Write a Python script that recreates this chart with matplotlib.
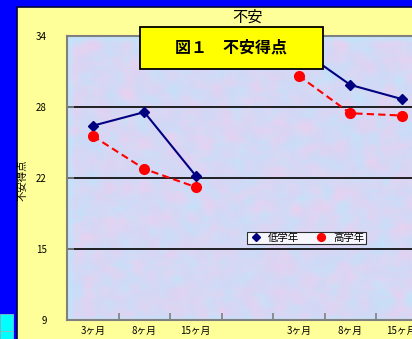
import numpy as np
import matplotlib
matplotlib.use("Agg")
import matplotlib.pyplot as plt
from matplotlib.patches import Rectangle

plt.rcParams['font.family'] = ['Noto Sans CJK JP', 'DejaVu Sans']

# Survey timing categories (two groups separated by a blank slot)
categories = ['3ヶ月', '8ヶ月', '15ヶ月', '', '3ヶ月', '8ヶ月', '15ヶ月', '']
low_grade = [26.1, 27.3, 21.7, np.nan, 32.9, 29.7, 28.45, np.nan]
high_grade = [25.2, 22.3, 20.7, np.nan, 30.5, 27.2, 27.0, np.nan]
y_ticks = [9, 15.25, 21.5, 27.75, 34]
y_tick_labels = ['9', '15', '22', '28', '34']

W, H = 412, 339
fig = plt.figure(figsize=(W / 100, H / 100), dpi=100)
fig.patch.set_facecolor('#0000FF')

def fx(px):
    return px / W

def fy(py):
    return 1 - py / H

# chart area (pale yellow) with a dark rim
chart_bg = Rectangle((fx(17), -0.1), 1.2, fy(7) + 0.1, transform=fig.transFigure,
                     facecolor='#FFFF99', edgecolor='#000040', linewidth=1.2, zorder=-2)
fig.patches.append(chart_bg)

# cyan spreadsheet cells peeking out at bottom-left
for y0, y1 in [(314, 331), (331, 340)]:
    fig.patches.append(Rectangle((0, fy(y1)), fx(13), fy(y0) - fy(y1),
                                 transform=fig.transFigure, facecolor='#00FFFF',
                                 edgecolor='#80C0C0', linewidth=0.6, zorder=-2))

n = len(categories)
cat_w = 51.5
ax_left, ax_top, ax_bottom = 67, 36, 320
ax = fig.add_axes([fx(ax_left), fy(ax_bottom), fx(n * cat_w), fy(ax_top) - fy(ax_bottom)])
ax.set_zorder(1)
ax.set_xlim(-0.5, n - 0.5)
ax.set_ylim(9, 34)

# pastel textured fill of the plot area
rng = np.random.default_rng(7)
tex_h, tex_w = 95, 140
base = rng.random((tex_h, tex_w, 2))
k = np.ones(4) / 4
for c in range(2):
    base[:, :, c] = np.apply_along_axis(lambda r: np.convolve(r, k, mode='same'), 1, base[:, :, c])
    base[:, :, c] = np.apply_along_axis(lambda r: np.convolve(r, k, mode='same'), 0, base[:, :, c])
    ch = base[:, :, c]
    base[:, :, c] = (ch - ch.min()) / (ch.max() - ch.min())
mix = np.clip((base[:, :, 0:1] - 0.62) * 1.8 + 0.5, 0, 1)
w2 = np.clip((base[:, :, 1:2] - 0.5) * 1.8 + 0.5, 0, 1)
blue = np.array([0.77, 0.89, 0.98])
pink = np.array([0.92, 0.82, 0.94])
lav = np.array([0.81, 0.83, 0.96])
img = blue * (1 - mix) + pink * mix
img = img * (1 - 0.45 * w2) + lav * 0.45 * w2
img = np.clip(img, 0, 1)
ax.imshow(img, extent=(-0.5, n - 0.5, 9, 34), aspect='auto', interpolation='bilinear', zorder=0)

for yv in y_ticks[1:-1]:
    ax.axhline(yv, color='black', linewidth=1.2, zorder=1)

x = np.arange(n)
ax.plot(x, low_grade, color='#000080', linewidth=1.5, marker='D', markersize=5,
        markerfacecolor='#000080', markeredgecolor='#000080', label='低学年', zorder=3)
ax.plot(x, high_grade, color='#FF0000', linewidth=1.5, linestyle=(0, (3.5, 2)), marker='o',
        markersize=7, markerfacecolor='#FF0000', markeredgecolor='#FF0000', label='高学年', zorder=3)

for s in ax.spines.values():
    s.set_color('#808080')
    s.set_linewidth(1.5)

ax.set_yticks(y_ticks)
ax.set_yticklabels(y_tick_labels, fontsize=7)
ax.set_xticks(x)
ax.set_xticklabels(categories, fontsize=7)
ax.set_xticks(np.arange(0.5, n - 0.5, 1), minor=True)
ax.tick_params(axis='x', which='major', length=0, pad=4)
ax.tick_params(axis='x', which='minor', direction='in', length=5, color='#808080', width=1.2)
ax.tick_params(axis='y', direction='in', length=5, color='#808080', width=1.2, pad=14.5)

fig.text(fx(23), fy(180), '不安得点', rotation=90, fontsize=7.5, ha='center', va='center')

fig.text(fx(248), fy(17), '不安', fontsize=11, ha='center', va='center')

leg = ax.legend(loc='upper left', bbox_to_anchor=((247 - ax_left) / (n * cat_w), (320 - 232) / 284),
                ncol=2, fontsize=7.5, frameon=True, fancybox=False, handlelength=1.5,
                handletextpad=0.45, columnspacing=1.3, borderpad=0.1, borderaxespad=0,
                markerscale=0.8)
leg.get_frame().set_edgecolor('black')
leg.get_frame().set_linewidth(0.8)
for h in leg.get_lines():
    h.set_linestyle('none')

# figure caption box
box = Rectangle((fx(140), fy(69)), fx(323) - fx(140), fy(27) - fy(69), transform=fig.transFigure,
                facecolor='#FFFF00', edgecolor='black', linewidth=1.3, zorder=5)
fig.patches.append(box)
fig.text(fx(231), fy(48), '図１　不安得点', fontsize=11.5, fontweight='bold',
         ha='center', va='center', zorder=6)

fig.savefig('out.png', dpi=100, facecolor=fig.get_facecolor())
